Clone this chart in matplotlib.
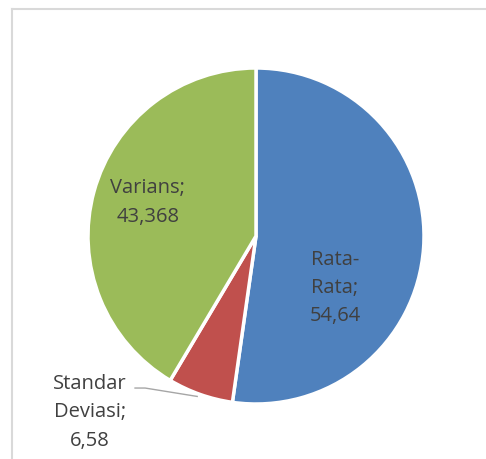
import numpy as np
import matplotlib.pyplot as plt
from matplotlib.lines import Line2D

# Data
categories = ["Rata-Rata", "Standar Deviasi", "Varians"]
values = [54.64, 6.58, 43.368]
value_labels = ["54,64", "6,58", "43,368"]
label_texts = ["Rata-\nRata;\n54,64", "Standar\nDeviasi;\n6,58", "Varians;\n43,368"]
colors = ["#4F81BD", "#C0504D", "#9BBB59"]

W, H = 486, 459
fig = plt.figure(figsize=(W / 100, H / 100), dpi=100)

# chart frame (only top and left are visible in the original)
fig.add_artist(Line2D([12 / W, 12 / W], [0, 1 - 9 / H], color="#D9D9D9", lw=1.5))
fig.add_artist(Line2D([12 / W, 1], [1 - 9 / H, 1 - 9 / H], color="#D9D9D9", lw=1.5))

cx, cy, r = 256, 236, 168
ax = fig.add_axes([(cx - r) / W, (H - cy - r) / H, 2 * r / W, 2 * r / H])
wedges, _ = ax.pie(values, colors=colors, startangle=90, counterclock=False,
                   radius=1, wedgeprops=dict(edgecolor="white", linewidth=2.5))
ax.set_xlim(-1, 1)
ax.set_ylim(-1, 1)
ax.set_aspect("equal")
ax.axis("off")

font = dict(family=["Open Sans", "DejaVu Sans"], fontsize=14.5, color="#404040",
            ha="center", va="center", linespacing=1.55)
label_pos = [(0.47, -0.31), (-0.99, -1.05), (-0.645, 0.2)]
for txt, (x, y) in zip(label_texts, label_pos):
    ax.text(x, y, txt, clip_on=False, **font)

# leader line for the small slice
ax.plot([-0.72, -0.66, -0.35], [-0.905, -0.905, -0.955], color="#A6A6A6",
        lw=1, clip_on=False)

fig.savefig("out.png", dpi=100)
